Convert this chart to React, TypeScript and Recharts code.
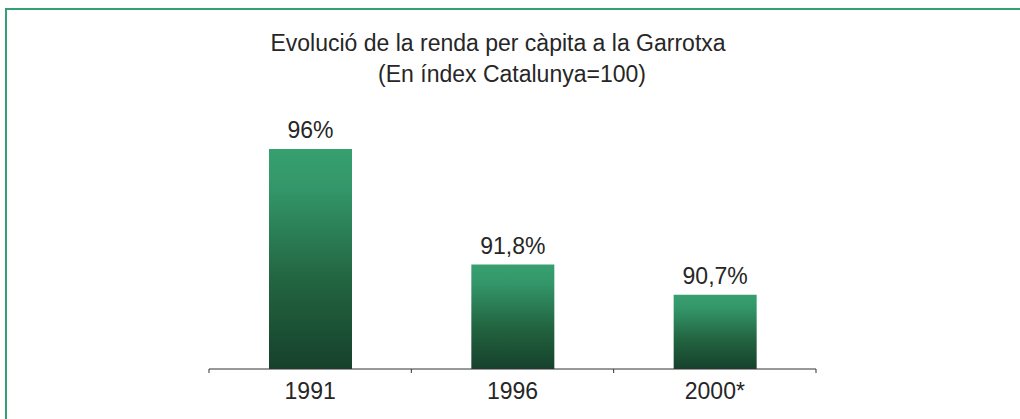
import { BarChart, Bar, XAxis, YAxis, LabelList } from "recharts";

const years = ["1991", "1996", "2000*"];
const renda = [96, 91.8, 90.7];
const titleLines = [
  "Evolució de la renda per càpita a la Garrotxa",
  "(En índex Catalunya=100)",
];

const data = years.map((y, i) => ({ year: y, value: renda[i] }));

const W = 1020;
const H = 419;
const FONT = '"Liberation Sans", Arial, sans-serif';
const TEXT = "#262626";
const FRAME = "#35a074";
const M = { top: 39, right: 204, bottom: 20, left: 209 };
const BAND = (W - M.left - M.right) / years.length;

function fmt(v: number) {
  return String(v).replace(".", ",") + "%";
}

function YearTick(props: any) {
  const { x, y, payload, index } = props;
  const half = payload?.offset || BAND / 2;
  return (
    <g>
      <line x1={x - half} x2={x - half} y1={y} y2={y + 4} stroke="#333" />
      {index === years.length - 1 && (
        <line x1={x + half} x2={x + half} y1={y} y2={y + 4} stroke="#333" />
      )}
      <text
        x={x}
        y={y + 30}
        textAnchor="middle"
        fontFamily={FONT}
        fontSize={23}
        fill={TEXT}
      >
        {payload.value}
      </text>
    </g>
  );
}

export default function App() {
  return (
    <div
      style={{
        position: "fixed",
        top: 0,
        left: 0,
        width: W,
        height: H,
        overflow: "hidden",
        background: "#fff",
      }}
    >
      {/* frame: only the top and left edges are inside the picture */}
      <div style={{ position: "absolute", top: 8, left: 5, width: W - 5, height: 2, background: FRAME }} />
      <div style={{ position: "absolute", top: 8, left: 5, width: 2, height: H - 8, background: FRAME }} />
      <svg
        width={W}
        height={H}
        style={{ position: "absolute", top: 0, left: 0, pointerEvents: "none" }}
      >
        <text x={498} y={51} textAnchor="middle" fontFamily={FONT} fontSize={23} fill={TEXT}>
          {titleLines[0]}
        </text>
        <text x={512} y={82} textAnchor="middle" fontFamily={FONT} fontSize={23} fill={TEXT}>
          {titleLines[1]}
        </text>
      </svg>
      <div style={{ position: "absolute", top: 0, left: 0 }}>
        <BarChart width={W} height={H} data={data} margin={M}>
          <defs>
            <linearGradient id="barFill" x1="0" y1="0" x2="0" y2="1">
              <stop offset="0%" stopColor="#37a06f" />
              <stop offset="18%" stopColor="#33966a" />
              <stop offset="60%" stopColor="#226440" />
              <stop offset="100%" stopColor="#16412c" />
            </linearGradient>
          </defs>
          <XAxis
            dataKey="year"
            height={30}
            axisLine={{ stroke: "#333" }}
            tickLine={false}
            tickSize={0}
            tickMargin={0}
            tick={<YearTick />}
            interval={0}
          />
          <YAxis hide domain={[88, 100]} allowDataOverflow />
          <Bar dataKey="value" barSize={83} fill="url(#barFill)" isAnimationActive={false}>
            <LabelList
              dataKey="value"
              position="top"
              offset={11}
              formatter={(v: any) => fmt(Number(v))}
              style={{ fontFamily: FONT, fontSize: 23, fill: TEXT }}
            />
          </Bar>
        </BarChart>
      </div>
    </div>
  );
}
